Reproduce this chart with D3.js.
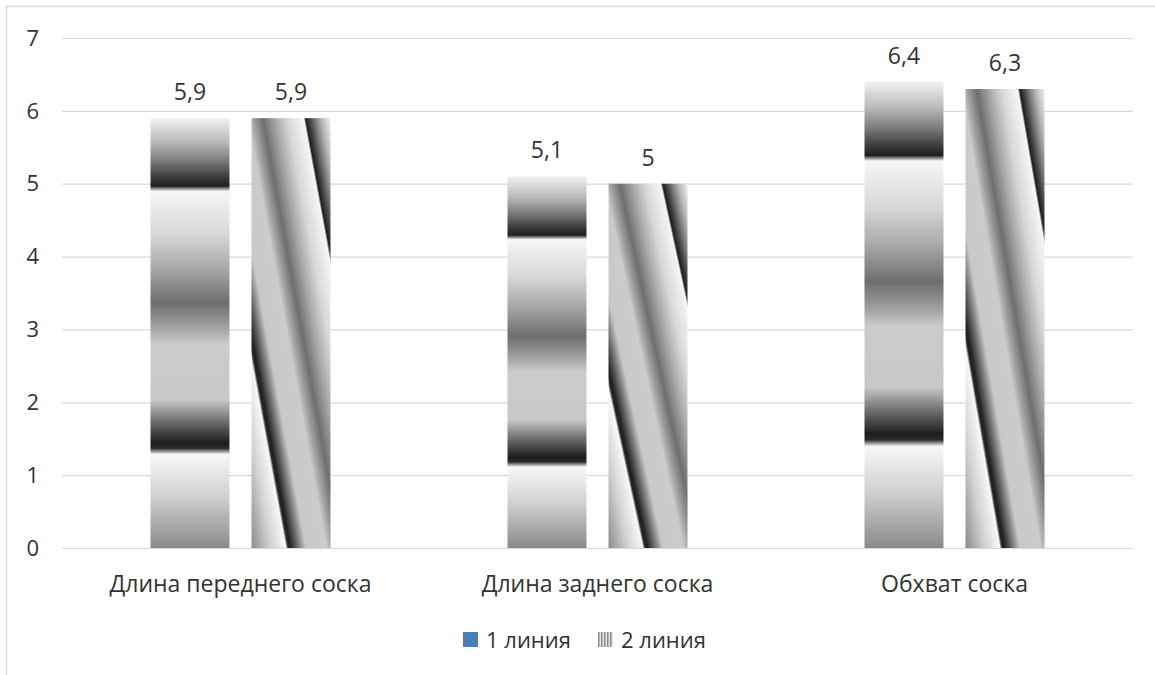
<!DOCTYPE html>
<html>
<head>
<meta charset="utf-8">
<script src="https://cdn.jsdelivr.net/npm/d3@7"></script>
<style>
  body { margin: 0; background: #fff; }
  text { font-family: "Open Sans", "Noto Sans", sans-serif; fill: #333; }
</style>
</head>
<body>
<svg id="chart" width="1155" height="675"></svg>
<script>
// chart data
const categories = ['Длина переднего соска', 'Длина заднего соска', 'Обхват соска'];
const seriesNames = ['1 линия', '2 линия'];
const line1 = [5.9, 5.1, 6.4];
const line2 = [5.9, 5.0, 6.3];
const yTicks = [0, 1, 2, 3, 4, 5, 6, 7];

// stops of the grey "chrome" preset fill, shared by both series
const chromeStops = [
    [0, '#f2f2f2'], [0.06, '#b4b4b4'], [0.10, '#7a7a7a'], [0.13, '#474747'],
    [0.158, '#1e1e1e'], [0.170, '#f6f6f6'], [0.27, '#d8d8d8'], [0.35, '#a8a8a8'],
    [0.43, '#6e6e6e'], [0.49, '#a4a4a4'], [0.525, '#cbcbcb'], [0.655, '#c8c8c8'],
    [0.70, '#787878'], [0.755, '#1e1e1e'], [0.768, '#2a2a2a'], [0.782, '#f8f8f8'],
    [0.88, '#d0d0d0'], [1, '#8a8a8a']
];

const svg = d3.select('#chart');
const margin = { top: 38, right: 22, bottom: 127, left: 62 };
const width = 1155, height = 675;

const defs = svg.append('defs');
function addGradient(id, x1, y1, x2, y2) {
    const g = defs.append('linearGradient').attr('id', id)
        .attr('x1', x1).attr('y1', y1).attr('x2', x2).attr('y2', y2);
    g.selectAll('stop').data(chromeStops).join('stop')
        .attr('offset', d => d[0]).attr('stop-color', d => d[1]);
}
addGradient('fill-1', 0, 0, 0, 1);
addGradient('fill-2', 1, 0, 0, 1);

// legend stripes for series 2
const pat = defs.append('pattern').attr('id', 'stripes')
    .attr('patternUnits', 'userSpaceOnUse').attr('width', 3).attr('height', 10);
pat.append('rect').attr('width', 3).attr('height', 10).attr('fill', '#e6e6e6');
pat.append('rect').attr('width', 1.5).attr('height', 10).attr('fill', '#8c8c8c');

// outer frame (right / bottom edges fall outside the picture)
svg.append('rect')
    .attr('x', 6.5).attr('y', 6.5).attr('width', 1170).attr('height', 690)
    .attr('fill', 'none').attr('stroke', '#d9d9d9').attr('stroke-width', 1.5);

const x0 = d3.scaleBand().domain(categories)
    .range([margin.left, width - margin.right]);
const x1 = d3.scaleBand().domain([0, 1])
    .range([x0.bandwidth() / 2 - 90, x0.bandwidth() / 2 + 90])
    .paddingInner(0.218);
const y = d3.scaleLinear().domain([0, 7]).range([height - margin.bottom, margin.top]);

// grid
const grid = svg.append('g')
    .attr('transform', `translate(${margin.left},0)`)
    .call(d3.axisLeft(y).tickValues(yTicks).tickSize(-(width - margin.left - margin.right)).tickFormat(''));
grid.select('.domain').remove();
grid.selectAll('.tick line').attr('stroke', '#d9d9d9').attr('stroke-width', 1.2);

// y labels
svg.append('g').selectAll('text').data(yTicks).join('text')
    .attr('x', 39).attr('y', d => y(d)).attr('dy', '0.35em')
    .attr('text-anchor', 'end').attr('font-size', 22)
    .text(d => d);

const fmt = v => String(v).replace('.', ',');
const series = [line1, line2];

const groups = svg.append('g').selectAll('g').data(categories).join('g')
    .attr('transform', d => `translate(${x0(d)},0)`);

groups.selectAll('rect')
    .data((d, i) => series.map((s, j) => ({ s: j, v: s[i] })))
    .join('rect')
    .attr('x', d => x1(d.s))
    .attr('width', x1.bandwidth())
    .attr('y', d => y(d.v))
    .attr('height', d => y(0) - y(d.v))
    .attr('fill', d => `url(#fill-${d.s + 1})`);

groups.selectAll('text.val')
    .data((d, i) => series.map((s, j) => ({ s: j, v: s[i] })))
    .join('text').attr('class', 'val')
    .attr('x', d => x1(d.s) + x1.bandwidth() / 2)
    .attr('y', d => y(d.v) - 18)
    .attr('text-anchor', 'middle').attr('font-size', 23)
    .text(d => fmt(d.v));

// category labels
svg.append('g').selectAll('text').data(categories).join('text')
    .attr('x', d => x0(d) + x0.bandwidth() / 2)
    .attr('y', 592)
    .attr('text-anchor', 'middle').attr('font-size', 23)
    .text(d => d);

// legend
const legend = svg.append('g').attr('transform', 'translate(463,632)');
const items = [
    { name: seriesNames[0], fill: '#4a7ebb', x: 0 },
    { name: seriesNames[1], fill: 'url(#stripes)', x: 135 }
];
const li = legend.selectAll('g').data(items).join('g')
    .attr('transform', d => `translate(${d.x},0)`);
li.append('rect').attr('width', 15).attr('height', 15).attr('fill', d => d.fill);
li.append('text').attr('x', 23).attr('y', 8).attr('dy', '0.35em')
    .attr('font-size', 22).text(d => d.name);
</script>
</body>
</html>
